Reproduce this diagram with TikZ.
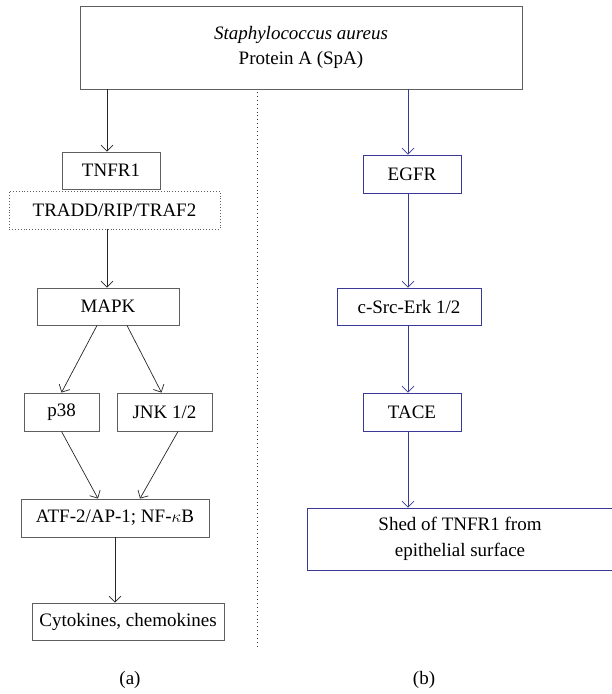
\documentclass[tikz,border=0pt]{standalone}
\usepackage{fontspec}
\setmainfont{Liberation Serif}
\usetikzlibrary{arrows.meta,calc}
\definecolor{pathblue}{RGB}{58,58,150}
\definecolor{boxgray}{RGB}{95,95,95}
\begin{document}
\begin{tikzpicture}[x=1pt,y=-1pt,
  every node/.style={font=\fontsize{19}{25.5}\selectfont, inner sep=0pt, align=center},
  lbox/.style={draw=boxgray, line width=0.9pt},
  bbox/.style={draw=pathblue, line width=0.9pt},
  dbox/.style={draw=boxgray, line width=0.9pt, dotted},
  arr/.style={draw=black!85, line width=0.7pt, -{Straight Barb[length=6pt,width=12pt]}},
  barr/.style={draw=pathblue, line width=0.7pt, -{Straight Barb[length=6pt,width=12pt]}}]
\useasboundingbox (0,0) rectangle (611,694);
% left
\node[lbox, minimum width=442pt, minimum height=83pt] (top) at (301,47.5) {\textit{Staphylococcus aureus}\\Protein A (SpA)};
\node[lbox, minimum width=98pt, minimum height=37pt] (tnfr) at (111,170.5) {TNFR1};
\node[dbox, minimum width=211pt, minimum height=38pt] (tradd) at (114.5,210) {TRADD/RIP/TRAF2};
\node[lbox, minimum width=142pt, minimum height=37pt] (mapk) at (108,306.5) {MAPK};
\node[lbox, minimum width=75pt, minimum height=38pt] (p38) at (61.5,412) {p38};
\node[lbox, minimum width=95pt, minimum height=38pt] (jnk) at (164.5,412) {JNK 1/2};
\node[lbox, minimum width=188pt, minimum height=38pt] (atf) at (115,518) {ATF-2/AP-1; NF-$\kappa$B};
\node[lbox, minimum width=192pt, minimum height=37pt] (cyto) at (128,621.5) {Cytokines, chemokines};
% right
\node[bbox, minimum width=98pt, minimum height=38pt] (egfr) at (412,174) {EGFR};
\node[bbox, minimum width=144pt, minimum height=37pt] (csrc) at (409,306.5) {c-Src-Erk 1/2};
\node[bbox, minimum width=98pt, minimum height=38pt] (tace) at (412,412) {TACE};
\node[bbox, minimum width=306pt, minimum height=62pt] (shed) at (460,539) {Shed of TNFR1 from\\epithelial surface};
% captions
\node (capa) at (130,680) {(a)};
\node (capb) at (424,680) {(b)};
% divider
\coordinate (dtop) at (257,92);
\coordinate (dbot) at (257,647);
\draw[black!80, line width=0.9pt, dash pattern=on 0.9pt off 3pt] (dtop) -- (dbot);
% connectors left
\coordinate (xl) at (107,0);
\coordinate (xr) at (408,0);
\draw[arr] (top.south -| xl) -- (tnfr.north -| xl);
\draw[arr] (tradd.south -| xl) -- (mapk.north -| xl);
\draw[arr] ([xshift=-11pt]mapk.south) -- (p38.north);
\draw[arr] ([xshift=19pt]mapk.south) -- ([xshift=-3pt]jnk.north);
\draw[arr] (p38.south) -- ([xshift=-17pt]atf.north);
\draw[arr] ([xshift=13.5pt]jnk.south) -- ([xshift=25pt]atf.north);
\draw[arr] (atf.south) -- (cyto.north -| atf.south);
% connectors right
\draw[barr] (top.south -| xr) -- (egfr.north -| xr);
\draw[barr] (egfr.south -| xr) -- (csrc.north -| xr);
\draw[barr] (csrc.south -| xr) -- (tace.north -| xr);
\draw[barr] (tace.south -| xr) -- (shed.north -| xr);
\end{tikzpicture}
\end{document}
